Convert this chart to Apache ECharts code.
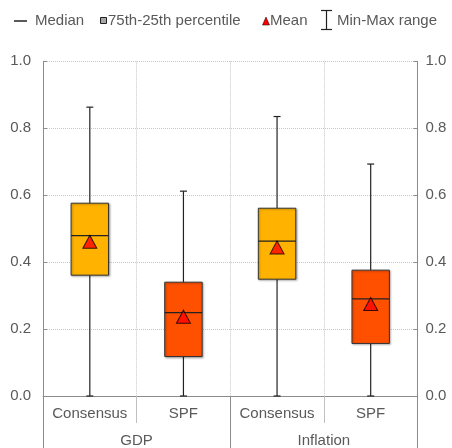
<!DOCTYPE html>
<html>
<head>
<meta charset="utf-8">
<script src="https://cdn.jsdelivr.net/npm/echarts@6/dist/echarts.min.js"></script>
<style>html,body{margin:0;padding:0;background:#fff}#c{width:452px;height:448px}</style>
</head>
<body>
<div id="c"></div>
<script>
// ---- data ----
var categories = ['Consensus', 'SPF', 'Consensus', 'SPF'];
var groups = ['GDP', 'Inflation'];
var minVals = [0, 0, 0, 0];
var q1Vals = [0.361, 0.118, 0.349, 0.157];
var medianVals = [0.479, 0.249, 0.463, 0.290];
var q3Vals = [0.576, 0.340, 0.561, 0.376];
var maxVals = [0.863, 0.612, 0.835, 0.693];
var meanVals = [0.461, 0.237, 0.444, 0.275];
var yTicks = [0, 0.2, 0.4, 0.6, 0.8, 1.0];

var boxColors = ['#FFB300', '#FF5000', '#FFB300', '#FF5000'];
var txt = '#595959';
var font = 'Liberation Sans, Arial, sans-serif';
var fs = 15;

var boxData = categories.map(function (c, i) {
  return [i, minVals[i], q1Vals[i], medianVals[i], q3Vals[i], maxVals[i]];
});
var meanData = categories.map(function (c, i) { return [i, meanVals[i]]; });

function renderBox(params, api) {
  var i = api.value(0);
  var pMin = api.coord([i, api.value(1)]);
  var pQ1 = api.coord([i, api.value(2)]);
  var pMed = api.coord([i, api.value(3)]);
  var pQ3 = api.coord([i, api.value(4)]);
  var pMax = api.coord([i, api.value(5)]);
  var bw = api.size([1, 0])[0] * 0.4;
  var x = pQ1[0];
  var cap = 3.5;
  var ls = { stroke: '#222', lineWidth: 1.2 };
  return {
    type: 'group',
    children: [
      { type: 'line', shape: { x1: x, y1: pMax[1], x2: x, y2: pQ3[1] }, style: ls },
      { type: 'line', shape: { x1: x, y1: pQ1[1], x2: x, y2: pMin[1] }, style: ls },
      { type: 'line', shape: { x1: x - cap, y1: pMax[1], x2: x + cap, y2: pMax[1] }, style: ls },
      { type: 'line', shape: { x1: x - cap, y1: pMin[1], x2: x + cap, y2: pMin[1] }, style: ls },
      { type: 'rect', shape: { x: x - bw / 2, y: pQ3[1], width: bw, height: pQ1[1] - pQ3[1] },
        style: { fill: boxColors[i], stroke: '#333', lineWidth: 1, shadowBlur: 2, shadowColor: 'rgba(0,0,0,0.3)', shadowOffsetX: 1, shadowOffsetY: 1 } },
      { type: 'line', shape: { x1: x - bw / 2, y1: pMed[1], x2: x + bw / 2, y2: pMed[1] }, style: { stroke: '#222', lineWidth: 1.2 } }
    ]
  };
}

var chart = echarts.init(document.getElementById('c'), null, { renderer: 'canvas' });

var legendY = 21;
var lf = fs + 'px ' + font;
var legendGraphics = [
  { type: 'line', shape: { x1: 14, y1: legendY, x2: 27, y2: legendY }, style: { stroke: '#222', lineWidth: 1.5 } },
  { type: 'text', x: 35, y: legendY, style: { text: 'Median', fill: txt, font: lf, verticalAlign: 'middle' } },
  { type: 'rect', shape: { x: 100.5, y: legendY - 3.5, width: 6, height: 6 }, style: { fill: '#a6a6a6', stroke: '#222', lineWidth: 1 } },
  { type: 'text', x: 108, y: legendY, style: { text: '75th-25th percentile', fill: txt, font: lf, verticalAlign: 'middle' } },
  { type: 'polygon', shape: { points: [[266, legendY - 4], [269.5, legendY + 4], [262.5, legendY + 4]] }, style: { fill: '#FF0000', stroke: '#000', lineWidth: 0.5 } },
  { type: 'text', x: 270, y: legendY, style: { text: 'Mean', fill: txt, font: lf, verticalAlign: 'middle' } },
  { type: 'line', shape: { x1: 326.5, y1: 10, x2: 326.5, y2: 30 }, style: { stroke: '#222', lineWidth: 1.2 } },
  { type: 'line', shape: { x1: 321, y1: 10.5, x2: 332, y2: 10.5 }, style: { stroke: '#222', lineWidth: 1.2 } },
  { type: 'line', shape: { x1: 321, y1: 29.5, x2: 332, y2: 29.5 }, style: { stroke: '#222', lineWidth: 1.2 } },
  { type: 'text', x: 337, y: legendY, style: { text: 'Min-Max range', fill: txt, font: lf, verticalAlign: 'middle' } }
];

var yAxisCommon = {
  type: 'value', min: yTicks[0], max: yTicks[yTicks.length - 1], interval: 0.2,
  axisLine: { show: true, lineStyle: { color: '#8c8c8c', width: 1 } },
  axisTick: { show: true, inside: true, length: 4, lineStyle: { color: '#8c8c8c' } },
  axisLabel: { color: txt, fontSize: fs, fontFamily: font, formatter: function (v) { return v.toFixed(1); } }
};

chart.setOption({
  animation: false,
  backgroundColor: '#fff',
  graphic: legendGraphics,
  grid: { left: 43, right: 34.5, top: 61.3, bottom: 51.7, containLabel: false },
  xAxis: [
    {
      type: 'category', data: categories, position: 'bottom',
      axisLine: { show: true, lineStyle: { color: '#8c8c8c', width: 1 } },
      axisTick: { show: true, interval: 0, length: 27, lineStyle: { color: '#c0c0c0' } },
      axisLabel: { interval: 0, hideOverlap: false, color: txt, fontSize: fs, fontFamily: font, margin: 10 },
      splitLine: { show: true, interval: 0, lineStyle: { color: '#c8c8c8', type: 'dotted', width: 1 } }
    },
    {
      type: 'category', data: groups, position: 'bottom',
      axisLine: { show: false },
      axisTick: { show: true, interval: 0, length: 52, lineStyle: { color: '#8c8c8c' } },
      axisLabel: { interval: 0, color: txt, fontSize: fs, fontFamily: font, margin: 37 },
      splitLine: { show: false }
    }
  ],
  yAxis: [
    Object.assign({}, yAxisCommon, {
      position: 'left',
      axisLabel: Object.assign({}, yAxisCommon.axisLabel, { margin: 12 }),
      splitLine: { show: true, lineStyle: { color: '#c8c8c8', type: 'dotted', width: 1 } }
    }),
    Object.assign({}, yAxisCommon, {
      position: 'right',
      axisLabel: Object.assign({}, yAxisCommon.axisLabel, { margin: 8 }),
      splitLine: { show: false }
    })
  ],
  series: [
    {
      type: 'custom', xAxisIndex: 0, yAxisIndex: 0,
      renderItem: renderBox,
      encode: { x: 0, y: [1, 2, 3, 4, 5] },
      data: boxData, z: 2
    },
    {
      type: 'scatter', xAxisIndex: 0, yAxisIndex: 0,
      symbol: 'triangle', symbolSize: [14, 13],
      itemStyle: { color: '#FF0000', borderColor: '#000', borderWidth: 1 },
      data: meanData, z: 3
    }
  ]
});
</script>
</body>
</html>
